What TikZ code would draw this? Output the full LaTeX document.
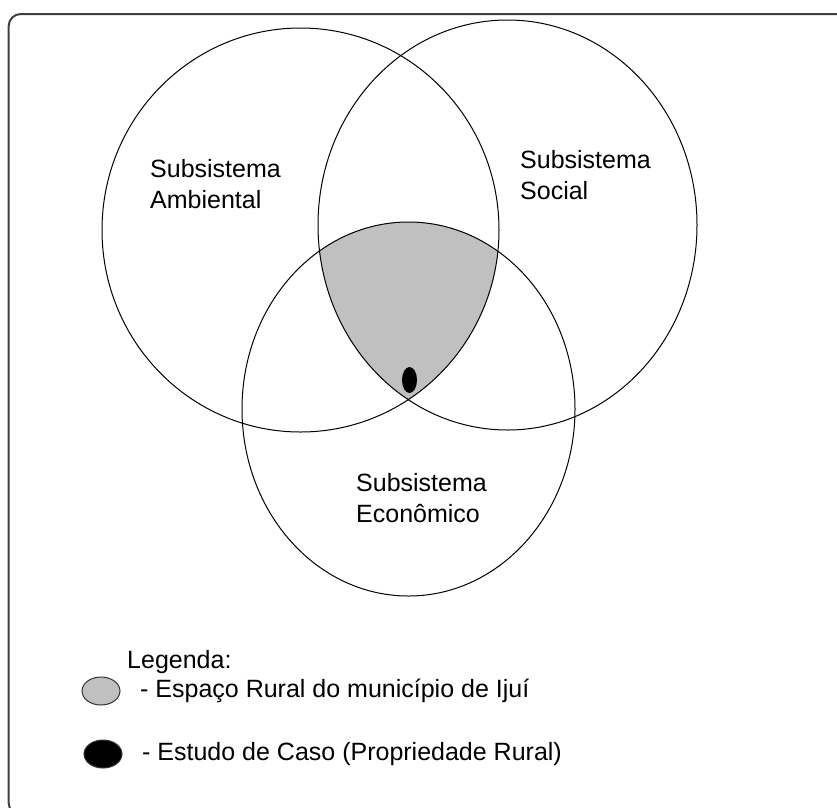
\documentclass[tikz,border=0pt]{standalone}
\usepackage{fontspec}
\setmainfont{Liberation Sans}
\usepackage{xcolor}
\usetikzlibrary{positioning, shapes.geometric}

\definecolor{rural}{HTML}{C0C0C0}
\definecolor{frame}{HTML}{404040}

\begin{document}
\begin{tikzpicture}[
  x=1pt, y=-1pt,
  every node/.style={font=\fontsize{25}{31}\selectfont, inner sep=0pt},
  label/.style={anchor=west, align=left},
  key/.style={ellipse, fill=#1, draw=black!80, line width=1pt,
              minimum width=38pt, minimum height=28pt},
  ring/.style={draw=black, line width=1pt},
]
\useasboundingbox (0,0) rectangle (837,807);

% frame
\draw[frame, line width=2pt, rounded corners=12pt] (8.7,14) rectangle (860,815);

% intersection of the three subsystems
\begin{scope}
  \clip (300.5,230) ellipse (198.5 and 202);
  \clip (507.5,225) ellipse (189.5 and 205);
  \fill[rural] (408.5,409) ellipse (166.5 and 187);
\end{scope}

% subsystems
\draw[ring] (300.5,230) ellipse (198.5 and 202);
\draw[ring] (507.5,225) ellipse (189.5 and 205);
\draw[ring] (408.5,409) ellipse (166.5 and 187);

% case study
\node[ellipse, fill=black, minimum width=15pt, minimum height=26pt] (caso) at (409.5,380) {};

% labels
\node[label] (amb) at (150,184) {Subsistema\\Ambiental};
\node[label] (soc) at (520,175) {Subsistema\\Social};
\node[label] (eco) at (356,498) {Subsistema\\Econômico};

% legend
\node[anchor=west] (leg) at (127,662) {Legenda:};
\node[key=rural] (keyrural) at (101,691) {};
\node[anchor=west] (txtrural) at (140,691) {- Espaço Rural do município de Ijuí};
\node[key=black] (keycaso) at (103,754) {};
\node[anchor=west] (txtcaso) at (142,754) {- Estudo de Caso (Propriedade Rural)};
\end{tikzpicture}
\end{document}
